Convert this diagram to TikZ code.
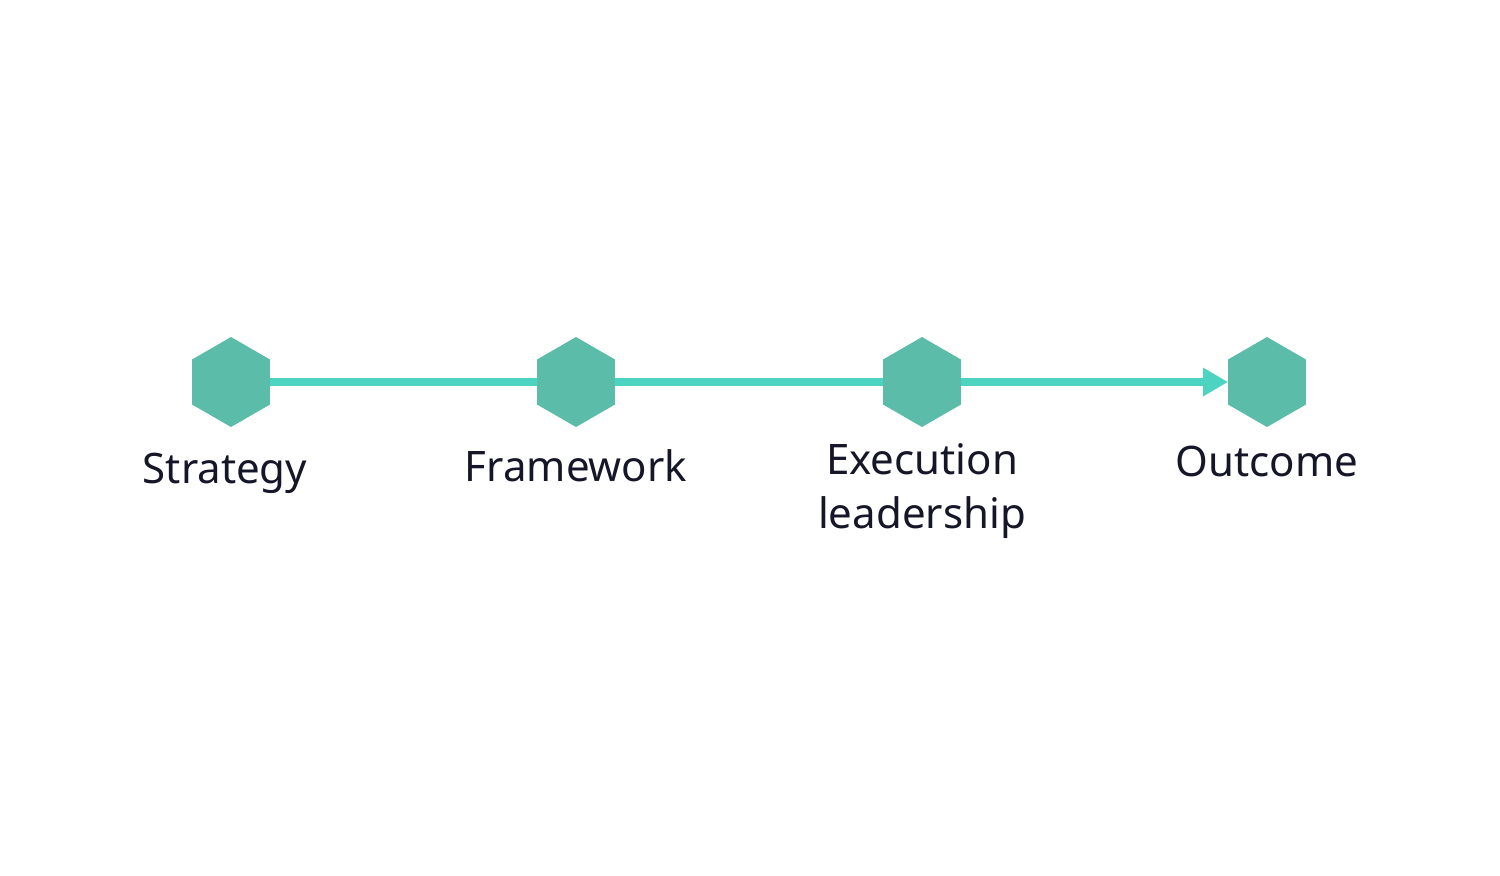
\documentclass[tikz,border=0pt]{standalone}
\usepackage{fontspec}
\setmainfont{Noto Sans}
\usetikzlibrary{shapes.geometric,arrows.meta}
\definecolor{hexfill}{HTML}{5BBDA9}
\definecolor{linecol}{HTML}{4DD4C0}
\definecolor{txtcol}{HTML}{161629}
\tikzset{
  hexnode/.style={regular polygon, regular polygon sides=6, shape border rotate=90,
    minimum size=45pt, inner sep=0pt, outer sep=0pt, fill=hexfill, draw=none},
  lbl/.style={anchor=base, inner sep=0pt, text=txtcol, font=\fontsize{21}{27}\selectfont},
  conn/.style={draw=linecol, line width=4pt}
}
\begin{document}
\begin{tikzpicture}[x=0.5pt,y=-0.5pt]
\useasboundingbox (0,0) rectangle (1500,875);
\node[hexnode] (h1) at (231,382) {};
\node[hexnode] (h2) at (576,382) {};
\node[hexnode] (h3) at (922,382) {};
\node[hexnode] (h4) at (1267,382) {};
\draw[conn] (h1) -- (h2);
\draw[conn] (h2) -- (h3);
\draw[conn, -{Triangle[length=12.5pt,width=13.5pt]}] (h3) -- (h4);
\node[lbl] (t1) at (225,483) {Strategy};
\node[lbl] (t2) at (576,481) {Framework};
\node[lbl] (t3) at (922,474) {Execution};
\node[lbl] (t3b) at (922,528) {leadership};
\node[lbl] (t4) at (1267,476) {Outcome};
\end{tikzpicture}
\end{document}
